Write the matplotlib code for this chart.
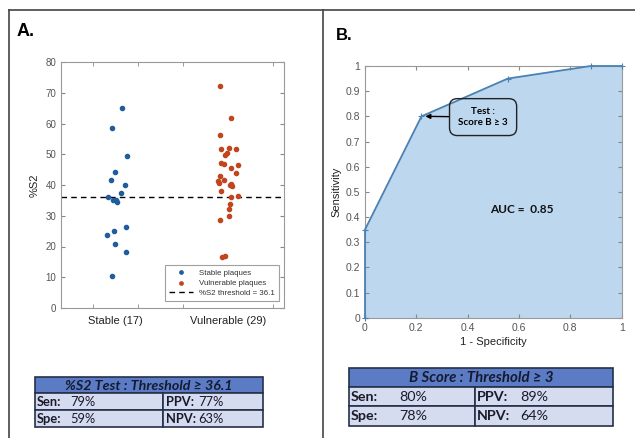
import numpy as np
import matplotlib
matplotlib.use("Agg")
import matplotlib.pyplot as plt
from matplotlib.patches import Rectangle

# === Panel A data (%S2 per plaque, x = category position with jitter)
stable_x = [1.06, 0.97, 1.11, 1.00, 0.96, 1.09, 1.05, 0.94, 0.98, 1.01, 1.02,
            1.10, 0.99, 0.93, 1.00, 1.10, 0.97]
stable_y = [65.1, 58.5, 49.4, 44.2, 41.5, 40.1, 37.3, 36.0, 35.1, 35.0, 34.4,
            26.4, 24.9, 23.6, 20.9, 18.1, 10.4]
vuln_x = [1.93, 2.03, 1.93, 1.94, 2.01, 2.07, 1.99, 1.98, 1.94, 1.97, 2.09,
          2.03, 2.07, 1.93, 1.97, 1.91, 1.92, 2.03, 2.04, 1.94, 2.09, 2.03,
          2.02, 2.01, 2.01, 1.93, 1.95, 1.98, 2.02]
vuln_y = [72.3, 61.8, 56.2, 51.7, 51.9, 51.7, 50.3, 49.7, 47.3, 46.7, 46.6,
          45.6, 44.0, 43.0, 41.5, 41.3, 40.7, 40.2, 39.7, 38.0, 36.3, 36.1,
          33.7, 32.1, 29.8, 28.5, 16.5, 17.0, 40.0]
threshold = 36.1
cat_labels = ["Stable (17)", "Vulnerable (29)"]

# === Panel B data (ROC curve)
fpr = [0, 0, 0.22, 0.556, 0.879, 1.0]
tpr = [0, 0.35, 0.80, 0.95, 1.0, 1.0]
auc = 0.85

# === Tables
table_a = {"title": "%S2 Test : Threshold \u2265 36.1",
           "rows": [["Sen:", "79%", "PPV:", "77%"], ["Spe:", "59%", "NPV:", "63%"]]}
table_b = {"title": "B Score : Threshold \u2265 3",
           "rows": [["Sen:", "80%", "PPV:", "89%"], ["Spe:", "78%", "NPV:", "64%"]]}

plt.rcParams["font.family"] = ["Liberation Sans", "DejaVu Sans"]
tick_gray = "#555555"
W, H = 635, 438
fig = plt.figure(figsize=(W / 100, H / 100), dpi=100)

# === Panel A: scatter
axA = fig.add_axes([61 / W, 1 - 308 / H, 223 / W, 246 / H])
axA.scatter(stable_x, stable_y, s=9, color="#1f5d9c", label="Stable plaques", zorder=3)
axA.scatter(vuln_x, vuln_y, s=9, color="#c0461e", label="Vulnerable plaques", zorder=3)
axA.axhline(threshold, color="black", linestyle="--", linewidth=1,
            dashes=(4, 3), label="%S2 threshold = 36.1", zorder=2)
axA.set_xlim(0.52, 2.5)
axA.set_ylim(0, 80)
axA.set_yticks(range(0, 81, 10))
axA.set_xticks([1, 2])
axA.set_xticklabels(cat_labels, fontsize=8, color="#222222")
axA.set_xticks([0.8, 1.2, 1.6, 2.0, 2.4], minor=True)
axA.tick_params(axis="x", which="major", length=0, pad=6)
axA.tick_params(axis="x", which="minor", direction="in", length=3, top=True, color="#888888")
axA.tick_params(axis="y", direction="in", length=3, right=True, labelsize=7,
                labelcolor=tick_gray, color="#888888")
axA.set_ylabel("%S2", fontsize=8, color="#222222", labelpad=4)
for s in axA.spines.values():
    s.set_color("#999999")
    s.set_linewidth(0.8)
leg = axA.legend(loc="lower right", bbox_to_anchor=(0.978, 0.028), fontsize=5.7,
                 fancybox=False, edgecolor="#888888", borderaxespad=0,
                 handlelength=3, markerscale=0.8, borderpad=0.5, labelspacing=0.35)
leg.get_frame().set_linewidth(0.8)
for t in leg.get_texts():
    t.set_color("#333333")

# === Panel B: ROC
axB = fig.add_axes([365 / W, 1 - 317.7 / H, 256.7 / W, 251.7 / H])
axB.fill_between(fpr, tpr, 0, color="#bdd7ee", zorder=1)
axB.plot(fpr, tpr, color="#4a82b4", linewidth=1.3, marker="+", markersize=5,
         markeredgewidth=0.8, zorder=4, clip_on=False)
axB.set_xlim(0, 1)
axB.set_ylim(0, 1)
axB.set_xticks(np.arange(0, 1.01, 0.2))
axB.set_xticklabels(["0", "0.2", "0.4", "0.6", "0.8", "1"])
axB.set_yticks(np.arange(0, 1.01, 0.1))
axB.set_yticklabels(["0", "0.1", "0.2", "0.3", "0.4", "0.5", "0.6", "0.7", "0.8", "0.9", "1"])
axB.tick_params(direction="in", length=3, top=True, right=True, labelsize=7.5,
                labelcolor=tick_gray, color="#888888")
axB.set_xlabel("1 - Specificity", fontsize=8, color="#222222", labelpad=3)
axB.set_ylabel("Sensitivity", fontsize=8, color="#222222", labelpad=3)
for s in axB.spines.values():
    s.set_color("#999999")
    s.set_linewidth(0.8)
    s.set_zorder(2)
axB.annotate("Test :\nScore B \u2265 3", xy=(0.235, 0.80), xytext=(0.46, 0.797),
             ha="center", va="center", fontsize=7, fontweight="bold", family="Lato",
             bbox=dict(boxstyle="round,pad=0.9,rounding_size=0.8", fc="none", ec="#222222", lw=1),
             arrowprops=dict(arrowstyle="-|>", color="black", lw=1, mutation_scale=7,
                             shrinkA=0, shrinkB=0), zorder=5)
axB.text(0.61, 0.43, "AUC =  %.2f" % auc, ha="center", va="center", fontsize=8.5,
         fontweight="bold", family="Lato", color="#111111")

# === Overlay in pixel coords for frame, panel titles and tables
ov = fig.add_axes([0, 0, 1, 1], zorder=10)
ov.set_xlim(0, W)
ov.set_ylim(H, 0)
ov.axis("off")
ov.plot([9, W], [10, 10], color="#444444", lw=1.2)
ov.plot([9, 9], [10, H], color="#444444", lw=1.2)
ov.plot([323, 323], [10, H], color="#444444", lw=1.2)
ov.text(17, 32, "A.", fontsize=13, fontweight="bold", va="center", ha="left")
ov.text(336, 35, "B.", fontsize=12, fontweight="bold", va="center", ha="left")


def draw_table(tab, x0, x1, xmid, ys, col_x, title_fs, cell_fs):
    edge = "#26304a"
    ov.add_patch(Rectangle((x0, ys[0]), x1 - x0, ys[1] - ys[0], fc="#5b7cc4", ec=edge, lw=1.2))
    ov.text((x0 + x1) / 2, (ys[0] + ys[1]) / 2 + 0.5, tab["title"], ha="center", va="center",
            fontsize=title_fs, fontweight="bold", style="italic", family="Lato", color="#151a30")
    for i, row in enumerate(tab["rows"]):
        ya, yb = ys[i + 1], ys[i + 2]
        ov.add_patch(Rectangle((x0, ya), xmid - x0, yb - ya, fc="#d6dcf0", ec=edge, lw=1.2))
        ov.add_patch(Rectangle((xmid, ya), x1 - xmid, yb - ya, fc="#d6dcf0", ec=edge, lw=1.2))
        yc = (ya + yb) / 2 + 0.5
        for j, txt in enumerate(row):
            ov.text(col_x[j], yc, txt, ha="left", va="center", fontsize=cell_fs, family="Lato",
                    fontweight="bold" if j % 2 == 0 else "normal", color="#1a1a2a")


draw_table(table_a, 35, 263, 163, [377, 393, 410, 427], [37, 70, 166, 198], 10.3, 9.3)
draw_table(table_b, 349, 613, 475, [368, 387, 406, 426], [351, 399, 477, 520], 10.8, 10.3)

fig.savefig("out.png", dpi=100)
